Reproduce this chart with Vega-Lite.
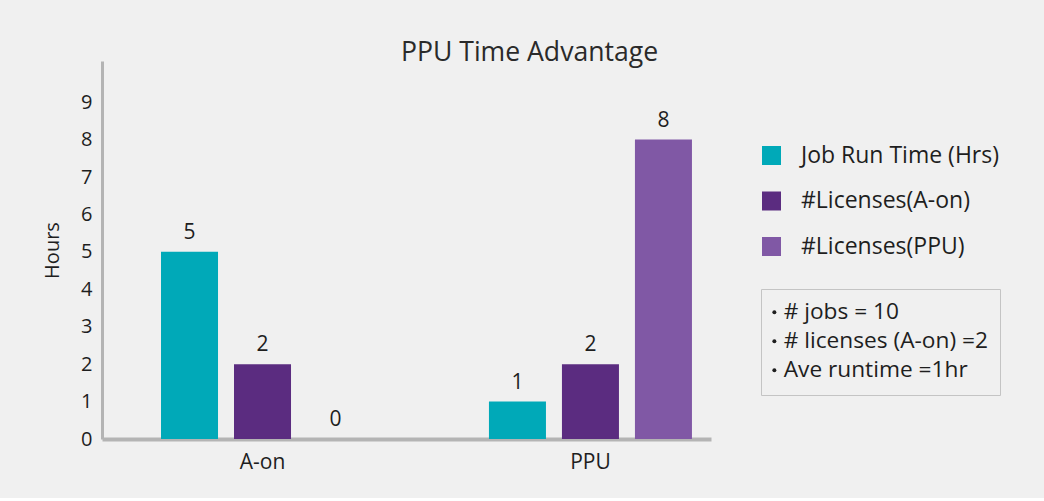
{
  "$schema": "https://vega.github.io/schema/vega-lite/v6.json",
  "width": 609,
  "height": 378,
  "padding": {"left": 42, "top": 40, "right": 45, "bottom": 26},
  "background": "#f0f0f0",
  "title": {
    "text": "PPU Time Advantage",
    "fontSize": 26.6,
    "fontWeight": "normal",
    "color": "#2a2a2a",
    "anchor": "middle",
    "frame": "bounds",
    "baseline": "alphabetic",
    "offset": -27,
    "dx": 8
  },
  "config": {
    "font": "Open Sans",
    "view": {"stroke": null},
    "axis": {"labelColor": "#1e1e1e", "titleColor": "#1e1e1e", "titleFontWeight": "normal", "grid": false, "ticks": false, "domainColor": "#b4b4b4", "zindex": 1},
    "legend": {"labelColor": "#1e1e1e", "labelLimit": 400}
  },
  "datasets": {
    "bars": [
      {"group": "A-on", "series": "Job Run Time (Hrs)", "value": 5},
      {"group": "A-on", "series": "#Licenses(A-on)", "value": 2},
      {"group": "A-on", "series": "#Licenses(PPU)", "value": 0},
      {"group": "PPU", "series": "Job Run Time (Hrs)", "value": 1},
      {"group": "PPU", "series": "#Licenses(A-on)", "value": 2},
      {"group": "PPU", "series": "#Licenses(PPU)", "value": 8}
    ],
    "notes": [
      {"note": "# jobs = 10"},
      {"note": "# licenses (A-on) =2"},
      {"note": "Ave runtime =1hr"}
    ]
  },
  "layer": [
    {
      "data": {"name": "bars"},
      "mark": {"type": "bar"},
      "encoding": {
        "x": {
          "field": "group", "type": "nominal", "sort": ["A-on", "PPU"],
          "scale": {"paddingInner": 0.381, "paddingOuter": 0.119, "align": 0.756},
          "axis": {"title": null, "labelAngle": 0, "labelFontSize": 21, "labelPadding": 12, "domainWidth": 4}
        },
        "xOffset": {
          "field": "series", "type": "nominal",
          "sort": ["Job Run Time (Hrs)", "#Licenses(A-on)", "#Licenses(PPU)"],
          "scale": {"paddingInner": 0.219, "paddingOuter": 0}
        },
        "y": {
          "field": "value", "type": "quantitative",
          "scale": {"domain": [0, 10.1], "nice": false},
          "axis": {"title": "Hours", "values": [0,1,2,3,4,5,6,7,8,9], "labelFontSize": 20, "labelPadding": 10, "titleFontSize": 20, "titlePadding": 18, "domainWidth": 3}
        },
        "color": {
          "field": "series", "type": "nominal",
          "scale": {"domain": ["Job Run Time (Hrs)", "#Licenses(A-on)", "#Licenses(PPU)"], "range": ["#00a9b8", "#5b2c80", "#8058a5"]},
          "legend": {
            "title": null, "orient": "none", "legendX": 658, "legendY": 83,
            "symbolType": "square", "symbolSize": 361, "symbolStrokeWidth": 0,
            "labelFontSize": 23, "labelOffset": 18, "rowPadding": 21.5, "padding": 0
          }
        }
      }
    },
    {
      "data": {"name": "bars"},
      "mark": {"type": "text", "dy": -19, "fontSize": 21, "color": "#1e1e1e"},
      "encoding": {
        "x": {"field": "group", "type": "nominal", "sort": ["A-on", "PPU"]},
        "xOffset": {"field": "series", "type": "nominal", "sort": ["Job Run Time (Hrs)", "#Licenses(A-on)", "#Licenses(PPU)"]},
        "y": {"field": "value", "type": "quantitative"},
        "text": {"field": "value", "type": "quantitative"}
      }
    },
    {
      "data": {"name": "notes"},
      "mark": {"type": "point", "opacity": 0, "filled": true, "color": "#1e1e1e"},
      "encoding": {
        "shape": {
          "field": "note", "type": "nominal",
          "scale": {"domain": ["# jobs = 10", "# licenses (A-on) =2", "Ave runtime =1hr"], "range": ["circle", "circle", "circle"]},
          "legend": {
            "title": null, "orient": "none", "legendX": 659, "legendY": 228,
            "symbolSize": 16, "symbolStrokeWidth": 0, "symbolFillColor": "#1e1e1e", "symbolOpacity": 1,
            "symbolOffset": -10,
            "labelFontSize": 22.7, "labelOffset": -2, "rowPadding": 5, "padding": 12,
            "strokeColor": "#c4c4c4",
            "encode": {
              "legend": {"update": {"strokeWidth": {"value": 2}}},
              "symbols": {
                "update": {"fill": {"value": "#1e1e1e"}, "opacity": {"value": 1}, "fillOpacity": {"value": 1}, "stroke": {"value": "#1e1e1e"}}
              }
            }
          }
        }
      }
    }
  ]
}
